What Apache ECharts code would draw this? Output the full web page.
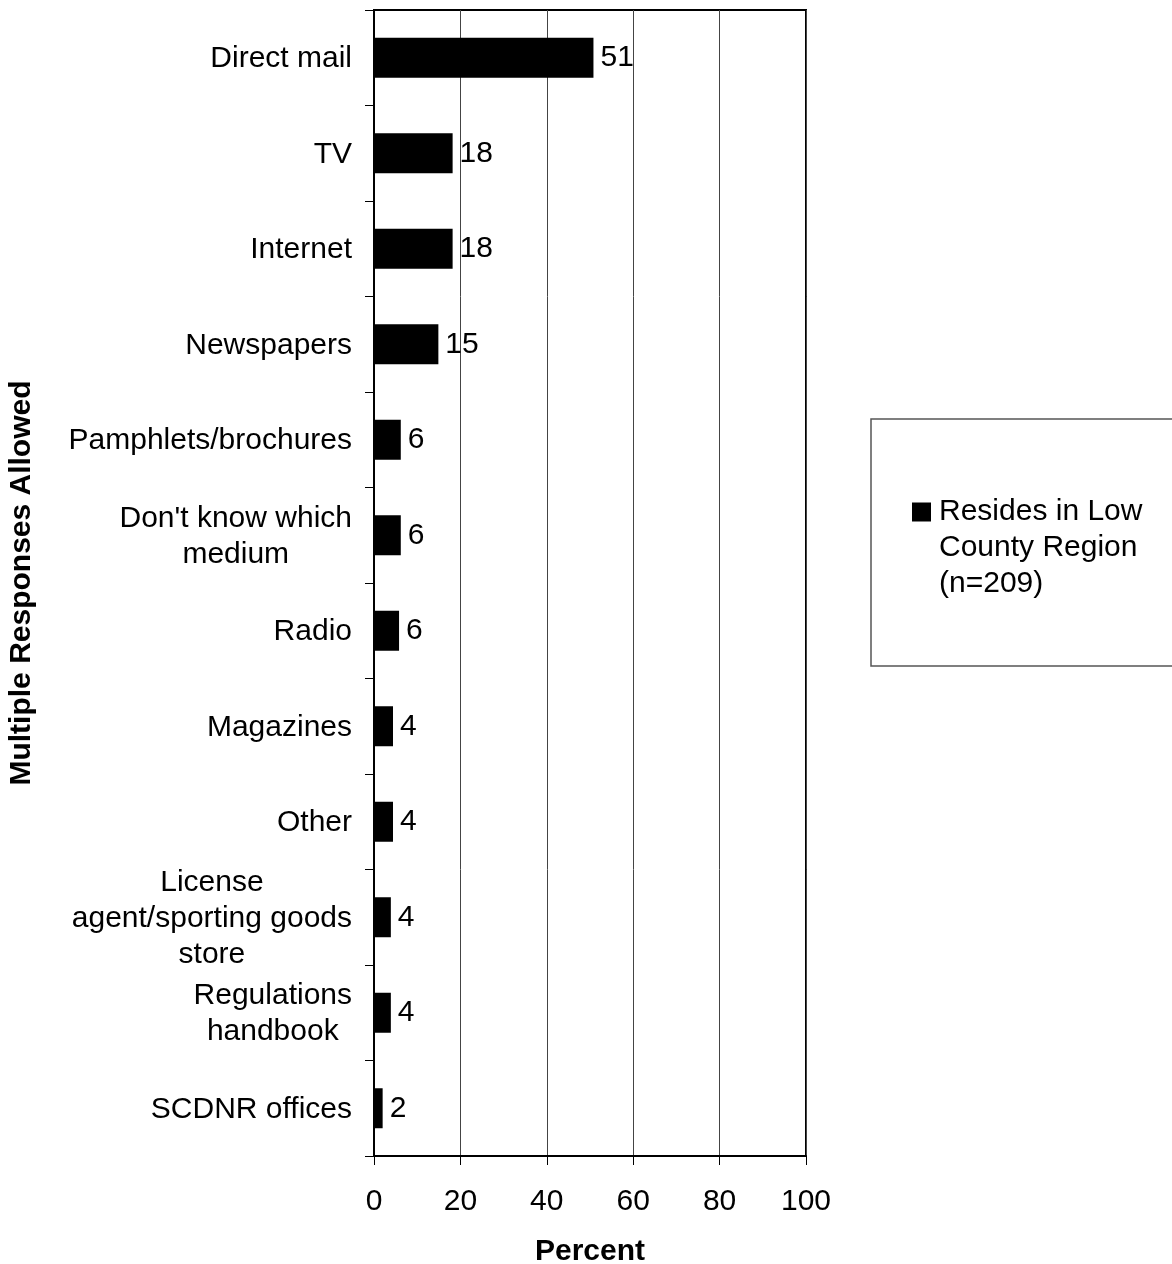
<!DOCTYPE html>
<html><head><meta charset="utf-8">
<script src="https://cdn.jsdelivr.net/npm/echarts@6/dist/echarts.min.js"></script>
<style>html,body{margin:0;padding:0;background:#fff}#c{width:1172px;height:1264px}</style>
</head><body><div id="c"></div>
<script>
const categories = ["Direct mail","TV","Internet","Newspapers","Pamphlets/brochures","Don't know which\nmedium","Radio","Magazines","Other","License\nagent/sporting goods\nstore","Regulations\nhandbook","SCDNR offices"];
const values = [50.8,18.2,18.2,14.9,6.2,6.2,5.8,4.4,4.4,3.9,3.9,2.0];
const xMin = 0, xMax = 100, xInterval = 20;
const seriesName = "Resides in Low County Region (n=209)";
const legendLines = ["Resides in Low","County Region","(n=209)"];
const xTitle = "Percent";
const yTitle = "Multiple Responses Allowed";

const FONT = '"Liberation Sans", Arial, sans-serif';
const FS = 30;
const chart = echarts.init(document.getElementById('c'), null, {renderer:'canvas'});
const option = {
  backgroundColor:'#fff',
  animation:false,
  textStyle:{fontFamily:FONT},
  grid:{left:374, top:10, width:432, height:1146, show:true, borderColor:'#000', borderWidth:2, containLabel:false, outerBoundsMode:'none'},
  xAxis:{
    type:'value', min:xMin, max:xMax, interval:xInterval,
    axisLine:{show:true, lineStyle:{color:'#000', width:2}},
    axisTick:{show:true, length:9, lineStyle:{color:'#000', width:1}},
    axisLabel:{fontSize:FS, color:'#000', margin:31, fontFamily:FONT},
    splitLine:{show:true, lineStyle:{color:'#444', width:1}},
    name:xTitle, nameLocation:'middle', nameGap:81,
    nameTextStyle:{fontSize:FS, fontWeight:'bold', color:'#000', fontFamily:FONT}
  },
  yAxis:{
    type:'category', data:categories, inverse:true,
    axisLine:{show:true, lineStyle:{color:'#000', width:2}},
    axisTick:{show:true, length:9, lineStyle:{color:'#000', width:1}},
    axisLabel:{
      interval:0, fontSize:FS, color:'#000', margin:22, lineHeight:36, fontFamily:FONT,
      formatter:function(v){ return v.split('\n').map(function(s){return '{c|'+s+'}';}).join('\n'); },
      rich:{c:{align:'center', fontSize:FS, lineHeight:36, color:'#000', fontFamily:FONT, padding:[2,0,0,0]}}
    },
    splitLine:{show:false},
    name:yTitle, nameLocation:'middle', nameGap:337, nameRotate:90,
    nameTextStyle:{fontSize:FS, fontWeight:'bold', color:'#000', fontFamily:FONT}
  },
  series:[{
    name:seriesName, type:'bar', data:values, barWidth:40,
    itemStyle:{color:'#000'},
    label:{show:true, position:'right', distance:7, fontSize:FS, color:'#000', fontFamily:FONT,
      formatter:function(p){return Math.round(p.value);}}
  }],
  graphic:[
    {type:'rect', shape:{x:871, y:419, width:320, height:247}, style:{fill:'#fff', stroke:'#555', lineWidth:1.5}},
    {type:'rect', shape:{x:912, y:502.5, width:19, height:19}, style:{fill:'#000'}},
    {type:'text', x:939, y:494, style:{text:legendLines.join('\n'), font:FS+'px '+FONT, lineHeight:36, fill:'#000', verticalAlign:'top'}}
  ]
};
chart.setOption(option);
</script>
</body></html>
